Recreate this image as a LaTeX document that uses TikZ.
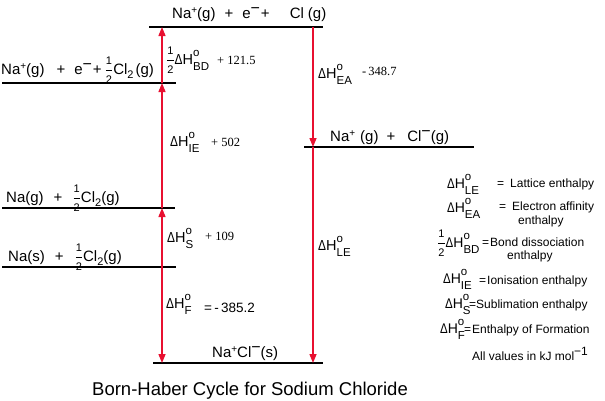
\documentclass[tikz,border=0pt]{standalone}
\usepackage{fontspec}
\setmainfont{Liberation Sans}
\newfontfamily\numf{Liberation Serif}
\usetikzlibrary{arrows.meta}
\definecolor{arr}{RGB}{232,16,48}
\newcommand\fs[1]{\fontsize{#1}{#1}\selectfont}
\newcommand\hf{$\displaystyle\frac{\hbox{\fs{11}1}}{\hbox{\fs{11}2}}$}
\newcommand\dD{\scalebox{0.82}[1]{Δ}}
\newcommand\dH[1]{\dD H\rlap{\raisebox{8pt}{\fs{11.5}o}}\raisebox{-6pt}{\fs{11.5}#1}}
\newcommand\spp[1]{\raisebox{5pt}{\fs{10}#1}}
\newcommand\sbb[1]{\raisebox{-4pt}{\fs{11}#1}}
\newcommand\mn{\raisebox{5pt}{\fs{16}−}}
\begin{document}
\begin{tikzpicture}[x=1pt,y=-1pt,
  lvl/.style={line width=1.6pt,black},
  redarr/.style={line width=1.4pt,arr,-{Triangle[length=9pt,width=7pt]}},
  txt/.style={anchor=base west,inner sep=0pt,font=\fs{15}},
  lab/.style={anchor=base west,inner sep=0pt,font=\fs{14.5}},
  num/.style={anchor=base west,inner sep=0pt,font=\numf\fs{12.5}},
  leg/.style={anchor=base west,inner sep=0pt,font=\fs{14}},
  legt/.style={anchor=base west,inner sep=0pt,font=\fs{12}}]
\useasboundingbox (0,0) rectangle (605,400);
% level lines
\coordinate (T1) at (149,27);  \coordinate (T2) at (323,27);
\coordinate (B1) at (2,83);    \coordinate (B2) at (176,83);
\coordinate (G1) at (2,208);   \coordinate (G2) at (175,208);
\coordinate (S1) at (2,267);   \coordinate (S2) at (176,267);
\coordinate (R1) at (304,147); \coordinate (R2) at (474,147);
\coordinate (F1) at (153,363); \coordinate (F2) at (323,363);
\draw[lvl] (T1) -- (T2);
\draw[lvl] (B1) -- (B2);
\draw[lvl] (G1) -- (G2);
\draw[lvl] (S1) -- (S2);
\draw[lvl] (R1) -- (R2);
\draw[lvl] (F1) -- (F2);
% arrow points
\coordinate (aT) at (162,27);  \coordinate (aB) at (162,83);
\coordinate (aG) at (162,208); \coordinate (aS) at (162,267);
\coordinate (aF) at (162,363);
\coordinate (rT) at (313,27);  \coordinate (rM) at (313,147);
\coordinate (rF) at (313,363);
\draw[redarr] (aB) -- (aT);
\draw[redarr] (aG) -- (aB);
\draw[redarr] (aS) -- (aG);
\draw[redarr] (aS) -- (aF);
\draw[redarr] (rT) -- (rM);
\draw[redarr] (rM) -- (rF);
% level texts
\node[txt] (ttop) at (172,18) {Na\spp{+}(g)\hspace{9pt}+\hspace{9pt}e\mn\hspace{1pt}+\hspace{20pt}Cl\hspace{4pt}(g)};
\node[txt] (tb) at (1,74) {Na\spp{+}(g)\hspace{12pt}+\hspace{9pt}e\mn\hspace{1pt}+\hspace{3pt}\hf Cl\sbb{2}\hspace{2pt}(g)};
\node[txt] (tg) at (6,202) {Na(g)\hspace{10pt}+\hspace{10pt}\hf Cl\sbb{2}(g)};
\node[txt] (ts) at (8,261) {Na(s)\hspace{10pt}+\hspace{11pt}\hf Cl\sbb{2}(g)};
\node[txt] (tr) at (330,141) {Na\spp{+}\hspace{5pt}(g)\hspace{8pt}+\hspace{12pt}Cl\mn(g)};
\node[txt] (tf) at (212,357) {Na\spp{+}Cl\mn(s)};
% step labels
\node[lab] (lbd) at (166,64) {\hf\dH{BD}};
\node[num] (nbd) at (217,64) {+ 121.5};
\node[lab] (lie) at (170,146) {\dH{IE}};
\node[num] (nie) at (211,146) {+ 502};
\node[lab] (ls) at (167,242) {\dH{S}};
\node[num] (ns) at (205,240) {+ 109};
\node[lab] (lf) at (166,308) {\dH{F}};
\node[anchor=base west,inner sep=0pt,font=\fs{13.5}] (nf) at (204,312) {=\,-\,385.2};
\node[lab] (lea) at (318,78) {\dH{EA}};
\node[num] (nea) at (362,75) {-\,348.7};
\node[lab] (lle) at (318,250) {\dH{LE}};
% legend
\node[leg] (k1) at (447,188) {\dH{LE}};
\node[legt] (k1e) at (497,187) {=};
\node[legt] (k1t) at (510,187) {Lattice enthalpy};
\node[leg] (k2) at (447,212) {\dH{EA}};
\node[legt] (k2e) at (499,210) {=};
\node[legt] (k2t) at (512,210) {Electron affinity};
\node[legt] (k2u) at (518,224) {enthalpy};
\node[leg] (k3) at (437,247) {\hf\dH{BD}};
\node[legt] (k3e) at (482,246) {=};
\node[legt] (k3t) at (490,246) {Bond dissociation};
\node[legt] (k3u) at (507,259) {enthalpy};
\node[leg] (k4) at (443,283) {\dH{IE}};
\node[legt] (k4e) at (479,284) {=};
\node[legt] (k4t) at (487,284) {Ionisation enthalpy};
\node[leg] (k5) at (445,308) {\dH{S}};
\node[legt] (k5e) at (469,308) {=};
\node[legt] (k5t) at (476,308) {Sublimation enthalpy};
\node[leg] (k6) at (440,333) {\dH{F}};
\node[legt] (k6e) at (464,333) {=};
\node[legt] (k6t) at (472,333) {Enthalpy of Formation};
\node[legt] (k7) at (472,360) {All values in kJ mol\raisebox{5pt}{\fs{12}−1}};
% title
\node[anchor=base west,inner sep=0pt,font=\fs{18.5}] (title) at (92,395) {Born-Haber Cycle for Sodium Chloride};
\end{tikzpicture}
\end{document}
